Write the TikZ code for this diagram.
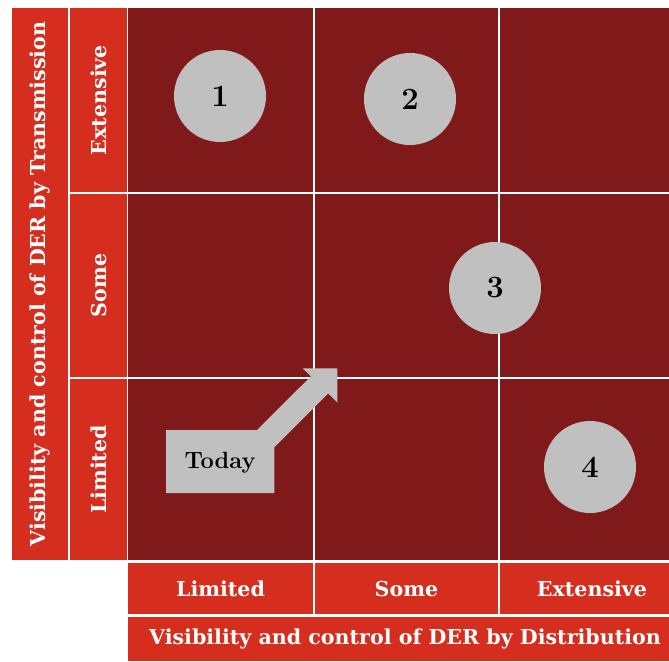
\documentclass[tikz,border=0pt]{standalone}
\usepackage{fontspec}
\newfontfamily\bandfont{DejaVu Serif}
\definecolor{cellred}{RGB}{128,26,26}
\definecolor{bandred}{RGB}{213,45,30}
\definecolor{marker}{RGB}{192,192,192}

\begin{document}
\begin{tikzpicture}[x=1pt,y=-1pt,
  band/.style={fill=bandred, text=white, inner sep=0pt, anchor=center,
    font=\bandfont\bfseries\fontsize{20.6}{22}\selectfont},
  cell/.style={fill=cellred, inner sep=0pt, anchor=center},
  bubble/.style={circle, fill=marker, minimum size=92pt, inner sep=0pt,
    font=\bfseries\fontsize{31}{33}\selectfont},
  pointer/.style={fill=marker},
]
\useasboundingbox (0,0) rectangle (669,661);
\clip (0,0) rectangle (669,661);

% matrix cells (3 x 3), separated by thin white gaps; the last column runs past the edge
\foreach \cx/\cw [count=\i] in {220.5/185, 406.5/183, 592/184}{
  \foreach \cy/\ch [count=\j] in {100/184, 285.5/183, 469.5/181}{
    \node[cell, minimum width=\cw pt, minimum height=\ch pt] (m\i\j) at (\cx,\cy) {};
  }
}

% vertical axis: title band and row labels
\node[band, rotate=90, minimum width=552pt, minimum height=56pt] (ytitle) at (40,284)
  {Visibility and control of DER by Transmission};
\node[band, rotate=90, minimum width=184pt, minimum height=57pt] (yext) at (98.5,100) {Extensive};
\node[band, rotate=90, minimum width=183pt, minimum height=57pt] (ysome) at (98.5,285.5) {Some};
\node[band, rotate=90, minimum width=181pt, minimum height=57pt] (ylim) at (98.5,469.5) {Limited};

% horizontal axis: column labels and title band
\node[band, minimum width=185pt, minimum height=51pt] (xlim) at (220.5,588.5) {Limited};
\node[band, minimum width=183pt, minimum height=51pt] (xsome) at (406.5,588.5) {Some};
\node[band, minimum width=184pt, minimum height=51pt] (xext) at (592,588.5) {Extensive};
\node[band, minimum width=554pt, minimum height=44pt] (xtitle) at (405,639)
  {Visibility and control of DER by Distribution};

% "Today" marker with its arrow towards the next stage
\fill[pointer] (166,430) -- (257,430) -- (311,376.3) -- (302.7,368.3) -- (337.3,368.3)
  -- (337.3,402.3) -- (328.2,393.5) -- (274.3,447.3) -- (274.3,493) -- (166,493) -- cycle;
\node[font=\bfseries\fontsize{23.5}{25}\selectfont] (today) at (220,463) {Today};

% numbered stages
\node[bubble] (s1) at (220,96) {1};
\node[bubble] (s2) at (410,99) {2};
\node[bubble] (s3) at (495,288) {3};
\node[bubble] (s4) at (590,467) {4};
\end{tikzpicture}
\end{document}
